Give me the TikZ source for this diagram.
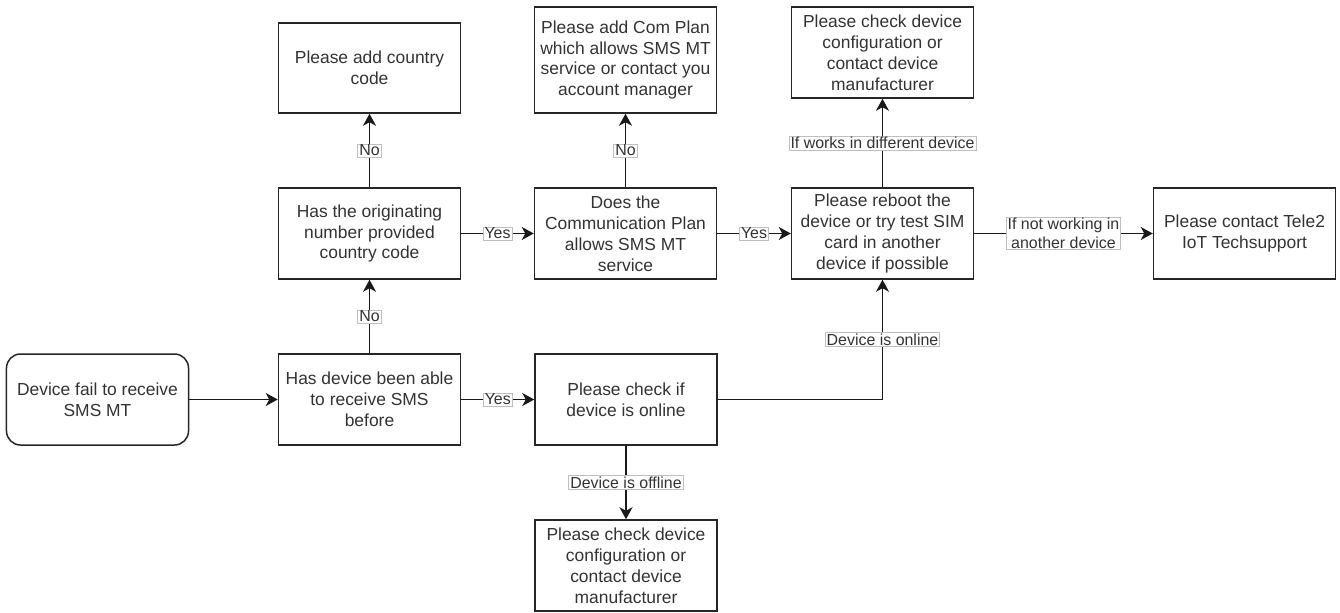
\documentclass[tikz,border=0pt]{standalone}
\usepackage{fontspec}
\setmainfont{Liberation Sans}
\usetikzlibrary{arrows.meta}
\begin{document}
\begin{tikzpicture}[x=1bp,y=-1bp,
  box/.style={draw=black!85, line width=1.5bp, minimum width=182bp, minimum height=91bp,
    align=center, inner sep=2bp, text=black!80, font=\fontsize{17.5}{21}\selectfont},
  conn/.style={draw=black!90, line width=1.5bp, -{Stealth[length=12bp,width=13bp,inset=3.5bp]}},
  lbl/.style={fill=white, draw=black!25, line width=0.7bp, inner xsep=1.5bp, inner ysep=1bp,
    align=center, text=black!80, font=\fontsize{16}{19}\selectfont}]
\useasboundingbox (0,0) rectangle (1340,613);
\node[box, rounded corners=14bp] (start) at (97.5,399.5) {Device fail to receive\\SMS MT};
\node[box] (A) at (369.5,399.5) {Has device been able\\to receive SMS\\before};
\node[box] (B) at (369.5,233.5) {Has the originating\\number provided\\country code};
\node[box, minimum height=90bp] (C) at (369.5,68) {Please add country\\code};
\node[box] (D) at (625.5,233.5) {Does the\\Communication Plan\\allows SMS MT\\service};
\node[box, minimum height=106bp] (E) at (625.5,60) {Please add Com Plan\\which allows SMS MT\\service or contact you\\account manager};
\node[box] (F) at (626,399.5) {Please check if\\device is online};
\node[box] (G) at (626,565.5) {Please check device\\configuration or\\contact device\\manufacturer};
\node[box] (H) at (882.5,233.5) {Please reboot the\\device or try test SIM\\card in another\\device if possible};
\node[box] (I) at (882.5,52.5) {Please check device\\configuration or\\contact device\\manufacturer};
\node[box] (J) at (1244.5,233.5) {Please contact Tele2\\IoT Techsupport};

\draw[conn] (start) -- (A);
\draw[conn] (A) -- node[lbl] {No} (B);
\draw[conn] (B) -- node[lbl] {No} (C);
\draw[conn] (B) -- node[lbl] {Yes} (D);
\draw[conn] (D) -- node[lbl] {No} (E);
\draw[conn] (D) -- node[lbl] {Yes} (H);
\draw[conn] (H) -- node[lbl] {If works in different device} (I);
\draw[conn] (H) -- node[lbl] {If not working in\\another device} (J);
\draw[conn] (A) -- node[lbl] {Yes} (F);
\draw[conn] (F) -- node[lbl] {Device is offline} (G);
\draw[conn] (F.east) -| node[lbl, pos=0.75] {Device is online} (H.south);
\end{tikzpicture}
\end{document}
